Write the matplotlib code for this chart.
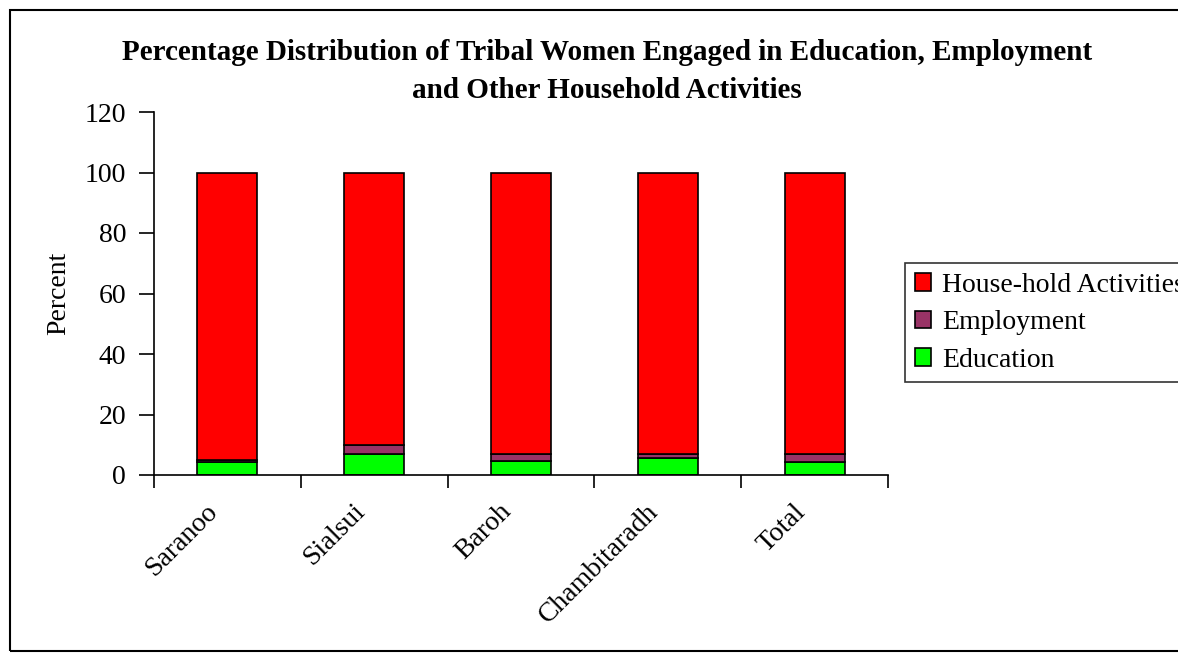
import matplotlib.pyplot as plt
import matplotlib.patches as patches
import numpy as np

villages = ['Saranoo', 'Sialsui', 'Baroh', 'Chambitaradh', 'Total']
education = [4.2, 7.0, 4.5, 5.7, 4.4]
employment = [0.8, 3.0, 2.5, 1.3, 2.7]
household = [100 - a - b for a, b in zip(education, employment)]

plt.rcParams['font.family'] = ['Liberation Serif', 'DejaVu Serif']

fig = plt.figure(figsize=(11.78, 6.56), dpi=100)
W, H = 1178, 656
# axes: x 154..888, y 112..475 (pixels)
ax = fig.add_axes([154/W, 1 - 475/H, (888-154)/W, (475-112)/H])

x = np.arange(len(villages))
bw = 0.41
edu = np.array(education)
emp = np.array(employment)
ax.bar(x, edu, bw, color='#00FF00', edgecolor='black', linewidth=1.2, label='Education')
ax.bar(x, emp, bw, bottom=edu, color='#993366', edgecolor='black', linewidth=1.2, label='Employment')
ax.bar(x, household, bw, bottom=edu+emp, color='#FF0000', edgecolor='black', linewidth=1.2,
       label='House-hold Activities')

ax.set_xlim(-0.5, len(villages) - 0.5)
ax.set_ylim(0, 120)
ax.set_yticks(range(0, 121, 20))
ax.tick_params(axis='y', labelsize=20, length=11, width=1.2, direction='out', pad=9)

# category boundary ticks, labels at centers
ax.set_xticks(np.arange(-0.5, len(villages)))
ax.set_xticklabels([])
ax.tick_params(axis='x', length=9, width=1.2, direction='out')
for i, name in enumerate(villages):
    ax.text(i - 0.15, -8, name, rotation=45, ha='right', va='top', fontsize=20,
            rotation_mode='anchor')

for s in ['top', 'right']:
    ax.spines[s].set_visible(False)
for s in ['left', 'bottom']:
    ax.spines[s].set_linewidth(1.2)

ax.set_ylabel('Percent', fontsize=20, labelpad=10)

fig.text(607/W, 1 - 52/H, 'Percentage Distribution of Tribal Women Engaged in Education, Employment',
         ha='center', va='center', fontsize=21, fontweight='bold')
fig.text(607/W, 1 - 90/H, 'and Other Household Activities',
         ha='center', va='center', fontsize=21, fontweight='bold')

handles, labels = ax.get_legend_handles_labels()
leg = fig.legend(handles[::-1], labels[::-1], loc='upper left',
                 bbox_to_anchor=(905/W, 1 - 263/H), fontsize=20, frameon=True,
                 fancybox=False, edgecolor='black', handlelength=0.6, handleheight=0.6,
                 handletextpad=0.4, borderaxespad=0, labelspacing=0.45, borderpad=0.35)
leg.get_frame().set_linewidth(1.2)

# outer chart frame
fig.patches.append(patches.Rectangle((10/W, 1 - 651/H), 1.2, (651-10)/H,
                                     transform=fig.transFigure, fill=False,
                                     edgecolor='black', linewidth=1.5))

fig.savefig('out.png', dpi=100)
